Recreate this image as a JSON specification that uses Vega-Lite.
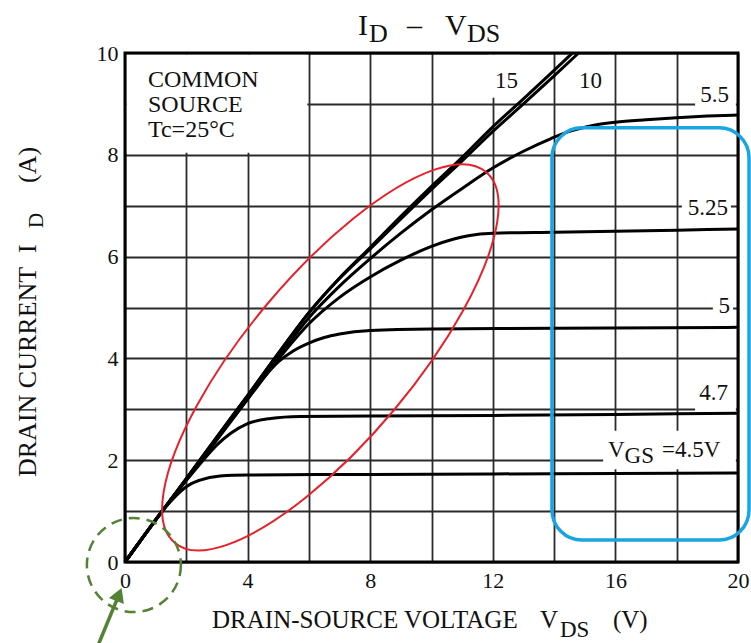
{
  "$schema": "https://vega.github.io/schema/vega-lite/v6.json",
  "width": 613,
  "height": 509,
  "autosize": {"type": "none"},
  "padding": {"left": 125, "top": 53, "right": 13, "bottom": 81},
  "background": "white",
  "config": {"view": {"stroke": null}, "font": "Liberation Serif", "text": {"font": "Liberation Serif", "color": "#111"}},
  "datasets": {
    "masks": [
      {"x1": 0.05, "x2": 5.95, "y1": 8.04, "y2": 9.97},
      {"x1": 11.85, "x2": 12.9, "y1": 9.12, "y2": 9.97},
      {"x1": 18.6, "x2": 19.93, "y1": 8.93, "y2": 9.5},
      {"x1": 18.17, "x2": 19.77, "y1": 6.78, "y2": 7.14},
      {"x1": 19.18, "x2": 19.84, "y1": 4.85, "y2": 5.2},
      {"x1": 18.6, "x2": 19.93, "y1": 2.95, "y2": 3.5},
      {"x1": 15.6, "x2": 19.93, "y1": 1.82, "y2": 2.58}
    ],
    "curves": [
      {"vgs": "4.5", "v": 0, "i": 0}, {"vgs": "4.5", "v": 0.6, "i": 0.5}, {"vgs": "4.5", "v": 1.24, "i": 1.02}, {"vgs": "4.5", "v": 1.8, "i": 1.38}, {"vgs": "4.5", "v": 2.0, "i": 1.48}, {"vgs": "4.5", "v": 2.45, "i": 1.61}, {"vgs": "4.5", "v": 3.1, "i": 1.69}, {"vgs": "4.5", "v": 4, "i": 1.71}, {"vgs": "4.5", "v": 8, "i": 1.72}, {"vgs": "4.5", "v": 12, "i": 1.73}, {"vgs": "4.5", "v": 16, "i": 1.74}, {"vgs": "4.5", "v": 20, "i": 1.75},
      {"vgs": "4.7", "v": 0, "i": 0}, {"vgs": "4.7", "v": 0.6, "i": 0.5}, {"vgs": "4.7", "v": 1.24, "i": 1.02}, {"vgs": "4.7", "v": 2, "i": 1.6}, {"vgs": "4.7", "v": 2.55, "i": 2.0}, {"vgs": "4.7", "v": 3, "i": 2.3}, {"vgs": "4.7", "v": 3.45, "i": 2.53}, {"vgs": "4.7", "v": 4, "i": 2.72}, {"vgs": "4.7", "v": 4.75, "i": 2.82}, {"vgs": "4.7", "v": 5.7, "i": 2.86}, {"vgs": "4.7", "v": 8, "i": 2.87}, {"vgs": "4.7", "v": 12, "i": 2.88}, {"vgs": "4.7", "v": 16, "i": 2.9}, {"vgs": "4.7", "v": 20, "i": 2.92},
      {"vgs": "5", "v": 0, "i": 0}, {"vgs": "5", "v": 0.6, "i": 0.5}, {"vgs": "5", "v": 1.24, "i": 1.02}, {"vgs": "5", "v": 2, "i": 1.62}, {"vgs": "5", "v": 3, "i": 2.4}, {"vgs": "5", "v": 4, "i": 3.2}, {"vgs": "5", "v": 4.5, "i": 3.6}, {"vgs": "5", "v": 5, "i": 3.93}, {"vgs": "5", "v": 5.5, "i": 4.15}, {"vgs": "5", "v": 6, "i": 4.3}, {"vgs": "5", "v": 6.5, "i": 4.41}, {"vgs": "5", "v": 7, "i": 4.48}, {"vgs": "5", "v": 8, "i": 4.55}, {"vgs": "5", "v": 10, "i": 4.58}, {"vgs": "5", "v": 14, "i": 4.59}, {"vgs": "5", "v": 20, "i": 4.61},
      {"vgs": "5.25", "v": 0, "i": 0}, {"vgs": "5.25", "v": 0.6, "i": 0.5}, {"vgs": "5.25", "v": 1.24, "i": 1.02}, {"vgs": "5.25", "v": 2, "i": 1.62}, {"vgs": "5.25", "v": 3, "i": 2.42}, {"vgs": "5.25", "v": 4, "i": 3.2}, {"vgs": "5.25", "v": 5, "i": 3.98}, {"vgs": "5.25", "v": 6, "i": 4.68}, {"vgs": "5.25", "v": 7, "i": 5.2}, {"vgs": "5.25", "v": 8, "i": 5.6}, {"vgs": "5.25", "v": 9, "i": 5.93}, {"vgs": "5.25", "v": 10, "i": 6.2}, {"vgs": "5.25", "v": 10.7, "i": 6.34}, {"vgs": "5.25", "v": 11.2, "i": 6.41}, {"vgs": "5.25", "v": 12, "i": 6.46}, {"vgs": "5.25", "v": 14, "i": 6.48}, {"vgs": "5.25", "v": 16, "i": 6.5}, {"vgs": "5.25", "v": 18, "i": 6.52}, {"vgs": "5.25", "v": 20, "i": 6.54},
      {"vgs": "5.5", "v": 0, "i": 0}, {"vgs": "5.5", "v": 0.6, "i": 0.5}, {"vgs": "5.5", "v": 1.24, "i": 1.02}, {"vgs": "5.5", "v": 2, "i": 1.63}, {"vgs": "5.5", "v": 3, "i": 2.44}, {"vgs": "5.5", "v": 4, "i": 3.23}, {"vgs": "5.5", "v": 5, "i": 4.03}, {"vgs": "5.5", "v": 6, "i": 4.8}, {"vgs": "5.5", "v": 7, "i": 5.42}, {"vgs": "5.5", "v": 8, "i": 5.96}, {"vgs": "5.5", "v": 9, "i": 6.46}, {"vgs": "5.5", "v": 10, "i": 6.92}, {"vgs": "5.5", "v": 11, "i": 7.34}, {"vgs": "5.5", "v": 12, "i": 7.74}, {"vgs": "5.5", "v": 13, "i": 8.07}, {"vgs": "5.5", "v": 13.9, "i": 8.32}, {"vgs": "5.5", "v": 14.5, "i": 8.46}, {"vgs": "5.5", "v": 15.3, "i": 8.58}, {"vgs": "5.5", "v": 16, "i": 8.64}, {"vgs": "5.5", "v": 17, "i": 8.69}, {"vgs": "5.5", "v": 18, "i": 8.73}, {"vgs": "5.5", "v": 19, "i": 8.76}, {"vgs": "5.5", "v": 20, "i": 8.78},
      {"vgs": "10", "v": 0, "i": 0}, {"vgs": "10", "v": 0.6, "i": 0.5}, {"vgs": "10", "v": 1.24, "i": 1.02}, {"vgs": "10", "v": 2, "i": 1.64}, {"vgs": "10", "v": 3, "i": 2.46}, {"vgs": "10", "v": 4, "i": 3.27}, {"vgs": "10", "v": 5, "i": 4.1}, {"vgs": "10", "v": 6, "i": 4.9}, {"vgs": "10", "v": 7, "i": 5.57}, {"vgs": "10", "v": 8, "i": 6.15}, {"vgs": "10", "v": 9, "i": 6.74}, {"vgs": "10", "v": 10, "i": 7.32}, {"vgs": "10", "v": 11, "i": 7.88}, {"vgs": "10", "v": 12, "i": 8.46}, {"vgs": "10", "v": 13, "i": 9.0}, {"vgs": "10", "v": 14, "i": 9.55}, {"vgs": "10", "v": 14.8, "i": 10},
      {"vgs": "15", "v": 0, "i": 0}, {"vgs": "15", "v": 0.6, "i": 0.5}, {"vgs": "15", "v": 1.24, "i": 1.02}, {"vgs": "15", "v": 2, "i": 1.64}, {"vgs": "15", "v": 3, "i": 2.46}, {"vgs": "15", "v": 4, "i": 3.27}, {"vgs": "15", "v": 5, "i": 4.1}, {"vgs": "15", "v": 6, "i": 4.9}, {"vgs": "15", "v": 7, "i": 5.58}, {"vgs": "15", "v": 8, "i": 6.18}, {"vgs": "15", "v": 9, "i": 6.79}, {"vgs": "15", "v": 10, "i": 7.38}, {"vgs": "15", "v": 11, "i": 7.95}, {"vgs": "15", "v": 12, "i": 8.55}, {"vgs": "15", "v": 13, "i": 9.1}, {"vgs": "15", "v": 14, "i": 9.66}, {"vgs": "15", "v": 14.6, "i": 10}
    ],
    "curve_labels": [
      {"text": "15", "x": 12.82, "y": 9.31},
      {"text": "10", "x": 15.56, "y": 9.31},
      {"text": "5.5", "x": 19.71, "y": 9.04},
      {"text": "5.25", "x": 19.67, "y": 6.82},
      {"text": "5", "x": 19.74, "y": 4.89},
      {"text": "4.7", "x": 19.67, "y": 3.18}
    ],
    "vgs_parts": [
      {"text": "V", "x": 15.76, "y": 2.06},
      {"text": "GS", "x": 16.3, "y": 1.945},
      {"text": "=4.5V", "x": 17.52, "y": 2.06}
    ],
    "notes": [
      {"text": "COMMON", "x": 0.75, "y": 9.332},
      {"text": "SOURCE", "x": 0.75, "y": 8.841},
      {"text": "Tc=25°C", "x": 0.75, "y": 8.35}
    ],
    "title_main": [
      {"text": "I", "x": 7.6, "y": 10.354},
      {"text": "–", "x": 9.2, "y": 10.354},
      {"text": "V", "x": 10.44, "y": 10.354}
    ],
    "title_sub": [
      {"text": "D", "x": 7.96, "y": 10.22},
      {"text": "DS", "x": 11.16, "y": 10.22}
    ],
    "xtitle_main": [
      {"text": "DRAIN-SOURCE VOLTAGE", "x": 2.84, "y": -1.297},
      {"text": "V", "x": 13.54, "y": -1.297},
      {"text": "(V)", "x": 15.92, "y": -1.297}
    ],
    "xtitle_sub": [
      {"text": "DS", "x": 14.19, "y": -1.473}
    ],
    "ytitle_main": [
      {"text": "DRAIN CURRENT", "x": -2.904, "y": 1.67},
      {"text": "I", "x": -2.904, "y": 6.07},
      {"text": "(A)", "x": -2.904, "y": 7.446}
    ],
    "ytitle_sub": [
      {"text": "D", "x": -2.69, "y": 6.56}
    ]
  },
  "layer": [
    {
      "data": {"name": "masks"},
      "mark": {"type": "rect", "fill": "white", "strokeWidth": 0},
      "encoding": {
        "x": {
          "field": "x1", "type": "quantitative",
          "scale": {"domain": [0, 20], "nice": false, "zero": false},
          "axis": {
            "values": [0, 2, 4, 6, 8, 10, 12, 14, 16, 18, 20],
            "labelExpr": "datum.value % 4 === 0 ? datum.label : ''",
            "title": null, "grid": true, "gridColor": "#2a2a2a", "gridWidth": 1.8,
            "domain": false, "ticks": false, "labelFont": "Liberation Serif", "labelFontSize": 22,
            "labelColor": "#111", "labelPadding": 8, "labelFlush": false, "labelOverlap": false
          }
        },
        "x2": {"field": "x2"},
        "y": {
          "field": "y1", "type": "quantitative",
          "scale": {"domain": [0, 10], "nice": false, "zero": false},
          "axis": {
            "values": [0, 1, 2, 3, 4, 5, 6, 7, 8, 9, 10],
            "labelExpr": "datum.value % 2 === 0 ? datum.label : ''",
            "title": null, "grid": true, "gridColor": "#2a2a2a", "gridWidth": 1.8,
            "domain": false, "ticks": false, "labelFont": "Liberation Serif", "labelFontSize": 22,
            "labelColor": "#111", "labelPadding": 7, "labelFlush": false, "labelOverlap": false
          }
        },
        "y2": {"field": "y2"}
      }
    },
    {
      "data": {"name": "curves"},
      "mark": {"type": "line", "color": "#000", "strokeWidth": 3, "interpolate": "monotone"},
      "encoding": {
        "x": {"field": "v", "type": "quantitative"},
        "y": {"field": "i", "type": "quantitative"},
        "detail": {"field": "vgs"}
      }
    },
    {
      "data": {"name": "curve_labels"},
      "mark": {"type": "text", "align": "right", "baseline": "alphabetic", "fontSize": 23, "font": "Liberation Serif", "color": "#111"},
      "encoding": {
        "x": {"field": "x", "type": "quantitative"},
        "y": {"field": "y", "type": "quantitative"},
        "text": {"field": "text"}
      }
    },
    {
      "data": {"name": "vgs_parts"},
      "mark": {"type": "text", "align": "left", "baseline": "alphabetic", "fontSize": 23, "font": "Liberation Serif", "color": "#111"},
      "encoding": {
        "x": {"field": "x", "type": "quantitative"},
        "y": {"field": "y", "type": "quantitative"},
        "text": {"field": "text"}
      }
    },
    {
      "data": {"name": "notes"},
      "mark": {"type": "text", "align": "left", "baseline": "alphabetic", "fontSize": 24, "font": "Liberation Serif", "color": "#111"},
      "encoding": {
        "x": {"field": "x", "type": "quantitative"},
        "y": {"field": "y", "type": "quantitative"},
        "text": {"field": "text"}
      }
    },
    {
      "data": {"name": "title_main"},
      "mark": {"type": "text", "align": "left", "baseline": "alphabetic", "fontSize": 30, "font": "Liberation Serif", "color": "#111"},
      "encoding": {
        "x": {"field": "x", "type": "quantitative"},
        "y": {"field": "y", "type": "quantitative"},
        "text": {"field": "text"}
      }
    },
    {
      "data": {"name": "title_sub"},
      "mark": {"type": "text", "align": "left", "baseline": "alphabetic", "fontSize": 26, "font": "Liberation Serif", "color": "#111"},
      "encoding": {
        "x": {"field": "x", "type": "quantitative"},
        "y": {"field": "y", "type": "quantitative"},
        "text": {"field": "text"}
      }
    },
    {
      "data": {"name": "xtitle_main"},
      "mark": {"type": "text", "align": "left", "baseline": "alphabetic", "fontSize": 25, "font": "Liberation Serif", "color": "#111"},
      "encoding": {
        "x": {"field": "x", "type": "quantitative"},
        "y": {"field": "y", "type": "quantitative"},
        "text": {"field": "text"}
      }
    },
    {
      "data": {"name": "xtitle_sub"},
      "mark": {"type": "text", "align": "left", "baseline": "alphabetic", "fontSize": 23, "font": "Liberation Serif", "color": "#111"},
      "encoding": {
        "x": {"field": "x", "type": "quantitative"},
        "y": {"field": "y", "type": "quantitative"},
        "text": {"field": "text"}
      }
    },
    {
      "data": {"name": "ytitle_main"},
      "mark": {"type": "text", "align": "left", "baseline": "alphabetic", "angle": 270, "fontSize": 26, "font": "Liberation Serif", "color": "#111"},
      "encoding": {
        "x": {"field": "x", "type": "quantitative"},
        "y": {"field": "y", "type": "quantitative"},
        "text": {"field": "text"}
      }
    },
    {
      "data": {"name": "ytitle_sub"},
      "mark": {"type": "text", "align": "left", "baseline": "alphabetic", "angle": 270, "fontSize": 21, "font": "Liberation Serif", "color": "#111"},
      "encoding": {
        "x": {"field": "x", "type": "quantitative"},
        "y": {"field": "y", "type": "quantitative"},
        "text": {"field": "text"}
      }
    },
    {
      "data": {"values": [{}]},
      "mark": {"type": "rect", "fillOpacity": 0, "stroke": "#000", "strokeWidth": 3},
      "encoding": {
        "x": {"datum": 0, "type": "quantitative"},
        "x2": {"datum": 20},
        "y": {"datum": 0, "type": "quantitative"},
        "y2": {"datum": 10}
      }
    },
    {
      "data": {"values": [{}]},
      "mark": {"type": "point", "filled": false, "stroke": "#E8202A", "strokeWidth": 2, "opacity": 1, "size": 234256,
        "shape": "M0.6428,-0.766A1,0.339,-50,1,0,-0.6428,0.766A1,0.339,-50,1,0,0.6428,-0.766Z"},
      "encoding": {
        "x": {"datum": 6.7, "type": "quantitative"},
        "y": {"datum": 4.02, "type": "quantitative"}
      }
    },
    {
      "data": {"values": [{}]},
      "mark": {"type": "rect", "fillOpacity": 0, "stroke": "#19A5E2", "strokeWidth": 3.5, "cornerRadius": 30},
      "encoding": {
        "x": {"datum": 13.93, "type": "quantitative"},
        "x2": {"datum": 20.36},
        "y": {"datum": 8.53, "type": "quantitative"},
        "y2": {"datum": 0.43}
      }
    },
    {
      "data": {"values": [{}]},
      "mark": {"type": "point", "shape": "circle", "filled": false, "stroke": "#548235", "strokeWidth": 2.5, "strokeDash": [11, 7], "opacity": 1, "size": 8836},
      "encoding": {
        "x": {"datum": 0.29, "type": "quantitative"},
        "y": {"datum": -0.06, "type": "quantitative"}
      }
    },
    {
      "data": {"values": [{}]},
      "mark": {"type": "rule", "stroke": "#548235", "strokeWidth": 3.5},
      "encoding": {
        "x": {"datum": -1.077, "type": "quantitative"},
        "y": {"datum": -1.925, "type": "quantitative"},
        "x2": {"datum": -0.228},
        "y2": {"datum": -0.688}
      }
    },
    {
      "data": {"values": [{}]},
      "mark": {"type": "point", "shape": "triangle-up", "filled": true, "color": "#548235", "opacity": 1, "size": 260, "angle": 22},
      "encoding": {
        "x": {"datum": -0.196, "type": "quantitative"},
        "y": {"datum": -0.639, "type": "quantitative"}
      }
    }
  ]
}
